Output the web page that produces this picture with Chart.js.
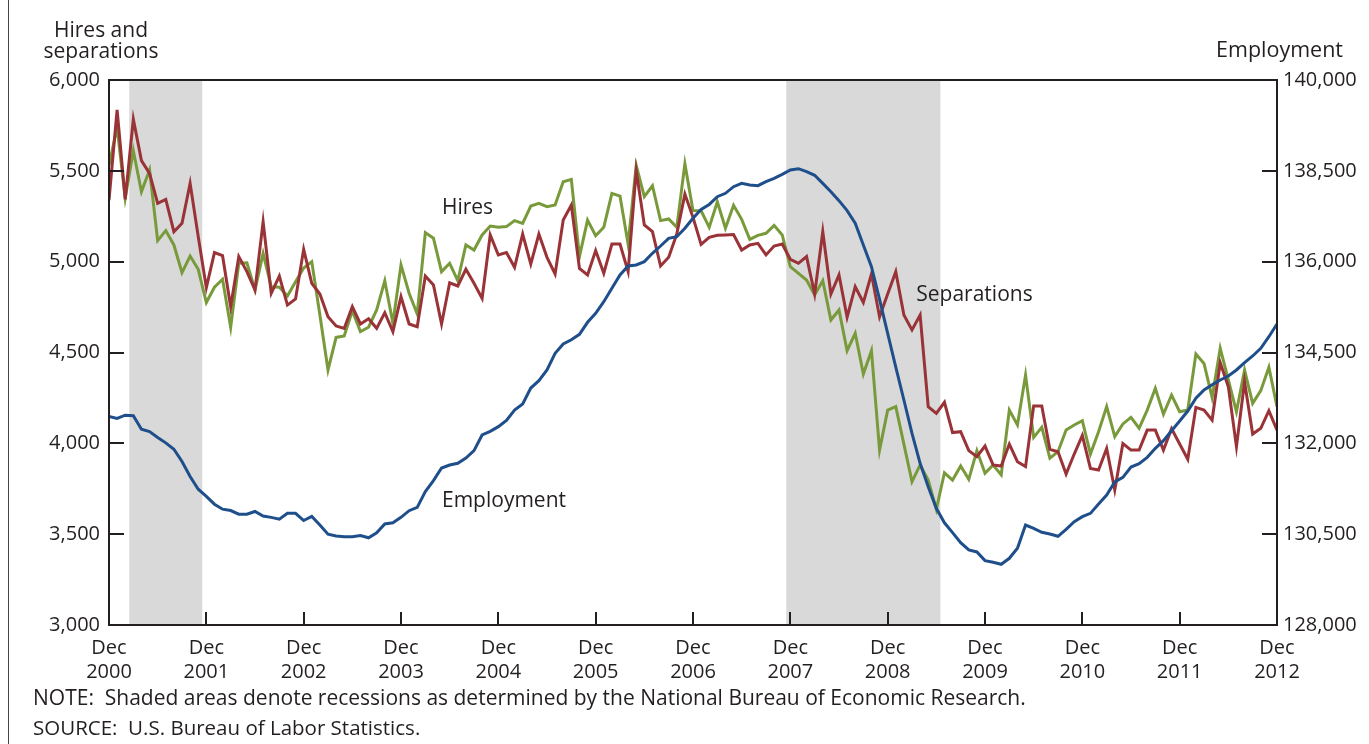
<!DOCTYPE html>
<html>
<head>
<meta charset="utf-8">
<script src="https://cdn.jsdelivr.net/npm/chart.js@4.4.0/dist/chart.umd.min.js"></script>
<style>
  html, body { margin: 0; padding: 0; background: #fff; }
  body { width: 1369px; height: 744px; position: relative; overflow: hidden; font-family: 'Open Sans', sans-serif; color: #231f20; }
  #frame { position: absolute; left: 8px; top: 0; width: 1px; height: 744px; background: #444; }
  canvas { position: absolute; left: 0; top: 0; }
  .lbl { position: absolute; font-size: 21px; line-height: 21px; white-space: nowrap; }
</style>
</head>
<body>
<div id="frame"></div>
<canvas id="chart" width="1369" height="744"></canvas>
<div class="lbl" style="left:41px; top:19px; width:120px; text-align:center;">Hires and<br>separations</div>
<div class="lbl" style="right:26px; top:38px; font-size:21.5px;">Employment</div>
<div class="lbl" style="left:33px; top:687px;">NOTE:&nbsp; Shaded areas denote recessions as determined by the National Bureau of Economic Research.</div>
<div class="lbl" style="left:33px; top:717px; font-size:20.5px;">SOURCE:&nbsp; U.S. Bureau of Labor Statistics.</div>
<script>
// monthly, Dec 2000 .. Dec 2012 (thousands)
var years = ['2000','2001','2002','2003','2004','2005','2006','2007','2008','2009','2010','2011','2012'];

var hires = [
  5530,5740,5350,5611,5385,5505,5116,5171,5092,4940,5031,4958,
  4775,4859,4903,4639,4991,4994,4844,5046,4862,4859,4811,4890,
  4965,5000,4706,4404,4583,4591,4730,4615,4639,4734,4895,4661,
  4982,4826,4712,5160,5129,4945,4991,4895,5092,5064,5147,5196,
  5189,5193,5226,5211,5306,5321,5303,5312,5440,5453,5028,5229,
  5143,5189,5376,5361,5097,5530,5358,5418,5226,5235,5189,5538,
  5281,5280,5189,5330,5184,5310,5233,5123,5145,5156,5200,5147,
  4972,4936,4899,4817,4895,4679,4734,4510,4606,4382,4510,3963,
  4183,4202,3996,3789,3881,3798,3637,3838,3798,3875,3802,3960,
  3835,3881,3826,4183,4101,4376,4033,4088,3918,3954,4073,4101,
  4125,3941,4064,4202,4037,4107,4143,4083,4183,4303,4161,4266,
  4174,4183,4492,4440,4253,4523,4349,4174,4404,4220,4290,4419,
  4202
];

var separations = [
  5339,5835,5343,5784,5556,5486,5321,5343,5165,5211,5431,5138,
  4857,5050,5033,4752,5028,4945,4844,5220,4826,4921,4761,4795,
  5068,4881,4822,4697,4646,4633,4752,4657,4686,4633,4719,4615,
  4807,4657,4642,4921,4872,4657,4884,4866,4958,4881,4798,5147,
  5037,5050,4969,5152,4987,5152,5024,4932,5229,5312,4963,4927,
  5061,4936,5097,5097,4945,5501,5202,5165,4976,5024,5152,5372,
  5244,5095,5134,5145,5147,5149,5064,5092,5101,5037,5086,5097,
  5013,4991,5028,4822,5165,4822,4927,4694,4862,4775,4932,4697,
  4822,4945,4706,4624,4706,4202,4165,4226,4059,4064,3960,3927,
  3985,3881,3875,3996,3899,3872,4206,4206,3967,3954,3831,3941,
  4043,3862,3853,3972,3743,3999,3963,3963,4073,4073,3963,4081,
  3996,3912,4198,4183,4128,4444,4312,3982,4339,4051,4083,4180,
  4073
];

var employment = [
  132590,132550,132620,132610,132310,132260,132130,132010,131870,131600,131270,130990,
  130830,130660,130550,130520,130440,130440,130500,130400,130370,130330,130460,130460,
  130300,130390,130200,130000,129960,129945,129945,129970,129920,130030,130225,130250,
  130370,130517,130591,130936,131178,131457,131523,131560,131677,131838,132184,132265,
  132367,132506,132734,132866,133218,133379,133615,133982,134187,134280,134400,134665,
  134863,135119,135414,135707,135905,135927,136000,136184,136345,136514,136550,136735,
  136955,137150,137260,137431,137505,137651,137725,137688,137673,137761,137835,137923,
  138018,138047,137981,137902,137725,137541,137343,137123,136845,136367,135890,135171,
  134423,133680,132954,132220,131560,131045,130570,130250,130033,129813,129652,129608,
  129417,129381,129337,129469,129689,130202,130129,130041,130004,129953,130107,130275,
  130385,130458,130664,130863,131149,131252,131479,131552,131692,131890,132058,132278,
  132492,132712,132992,133174,133291,133395,133483,133615,133776,133923,134093,134348,
  134628
];

var rightTickLabels = ['128,000','130,500','132,000','134,500','136,000','138,500','140,000'];

// recessions, first and last month index
var recessions = [[3, 11], [84, 102]];

var seriesNotes = [
  { text: 'Hires', x: 44.2, y: 5295 },
  { text: 'Separations', x: 106.7, y: 4817 },
  { text: 'Employment', x: 48.7, y: 3683 }
];

var ink = '#231f20';
Chart.defaults.font.family = "'Open Sans', sans-serif";
Chart.defaults.color = ink;

function pts(arr) {
  return arr.map(function (v, i) { return { x: i, y: v }; });
}

var decor = {
  id: 'decor',
  beforeDatasetsDraw: function (chart) {
    var ctx = chart.ctx, a = chart.chartArea, xs = chart.scales.x;
    ctx.save();
    ctx.fillStyle = '#d9d9d9';
    recessions.forEach(function (r) {
      var x0 = xs.getPixelForValue(r[0] - 0.5), x1 = xs.getPixelForValue(r[1] + 0.5);
      ctx.fillRect(x0, a.top, x1 - x0, a.bottom - a.top);
    });
    ctx.restore();
  },
  afterDatasetsDraw: function (chart) {
    var ctx = chart.ctx, a = chart.chartArea, xs = chart.scales.x, ys = chart.scales.y;
    ctx.save();
    ctx.strokeStyle = ink;
    ctx.lineWidth = 2;
    ctx.strokeRect(a.left, a.top, a.right - a.left, a.bottom - a.top);
    ctx.beginPath();
    for (var v = 3500; v < 6000; v += 500) {
      var py = Math.round(ys.getPixelForValue(v));
      ctx.moveTo(a.left, py); ctx.lineTo(a.left + 15, py);
      ctx.moveTo(a.right, py); ctx.lineTo(a.right - 15, py);
    }
    for (var m = 12; m < 144; m += 12) {
      var px = Math.round(xs.getPixelForValue(m));
      ctx.moveTo(px, a.bottom); ctx.lineTo(px, a.bottom - 13);
    }
    ctx.stroke();

    ctx.fillStyle = ink;
    ctx.font = "21px 'Open Sans', sans-serif";
    ctx.textAlign = 'center';
    ctx.textBaseline = 'middle';
    seriesNotes.forEach(function (n) {
      ctx.fillText(n.text, xs.getPixelForValue(n.x), ys.getPixelForValue(n.y));
    });
    ctx.restore();
  }
};

new Chart(document.getElementById('chart').getContext('2d'), {
  type: 'line',
  data: {
    datasets: [
      { label: 'Employment', data: pts(employment), yAxisID: 'y1', borderColor: '#1f4f8b', borderWidth: 3, pointRadius: 0, tension: 0 },
      { label: 'Separations', data: pts(separations), yAxisID: 'y', borderColor: '#993337', borderWidth: 3, pointRadius: 0, tension: 0 },
      { label: 'Hires', data: pts(hires), yAxisID: 'y', borderColor: '#789a3b', borderWidth: 3, pointRadius: 0, tension: 0 }
    ]
  },
  options: {
    responsive: false,
    animation: false,
    devicePixelRatio: 1,
    layout: { padding: { top: 80, left: 0, right: 0, bottom: 0 } },
    plugins: { legend: { display: false }, tooltip: { enabled: false } },
    scales: {
      x: {
        type: 'linear', min: 0, max: 144,
        afterBuildTicks: function (s) { s.ticks = years.map(function (y, k) { return { value: k * 12 }; }); },
        afterFit: function (s) { s.height = 119; },
        ticks: {
          autoSkip: false, maxRotation: 0, padding: 11,
          font: { size: 20, lineHeight: 1.2 },
          callback: function (v) { return ['Dec', years[Math.round(v / 12)]]; }
        },
        grid: { display: false, drawTicks: false },
        border: { display: false }
      },
      y: {
        position: 'left', min: 3000, max: 6000,
        afterBuildTicks: function (s) { var t = []; for (var v = 3000; v <= 6000; v += 500) t.push({ value: v }); s.ticks = t; },
        afterFit: function (s) { s.width = 109; },
        ticks: {
          padding: 9, font: { size: 20 },
          callback: function (v) { return v.toLocaleString('en-US'); }
        },
        grid: { display: false, drawTicks: false },
        border: { display: false }
      },
      y1: {
        position: 'right', min: 128000, max: 140000,
        afterBuildTicks: function (s) { s.ticks = rightTickLabels.map(function (l, k) { return { value: 128000 + k * 2000 }; }); },
        afterFit: function (s) { s.width = 92; },
        ticks: {
          padding: 6, font: { size: 20 },
          callback: function (v, i) { return rightTickLabels[i]; }
        },
        grid: { display: false, drawTicks: false },
        border: { display: false }
      }
    }
  },
  plugins: [decor]
});
</script>
</body>
</html>
